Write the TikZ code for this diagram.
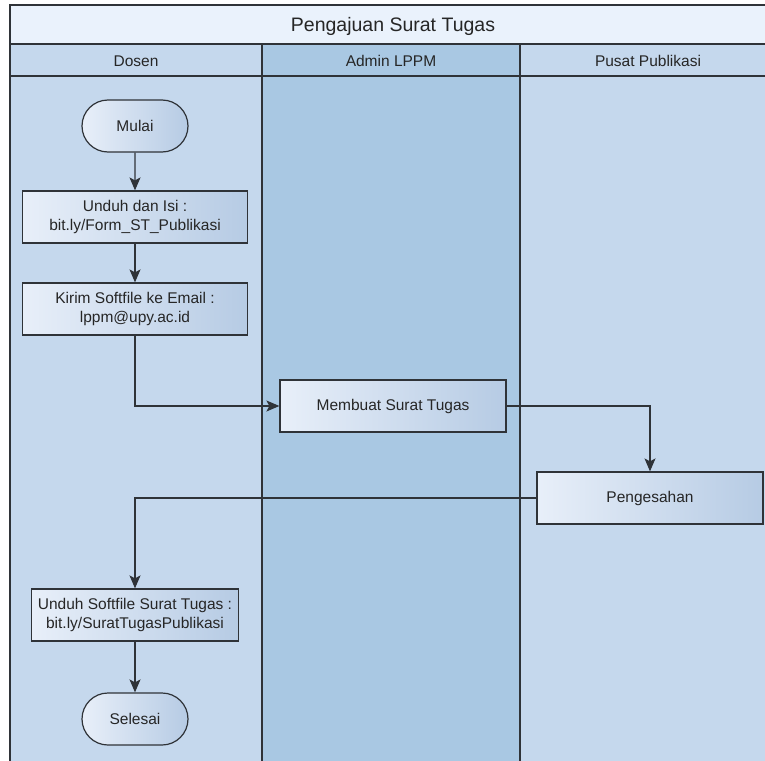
\documentclass[tikz,border=0pt]{standalone}
\usepackage{fontspec}
\setmainfont{Liberation Sans}
\usetikzlibrary{arrows.meta,shapes.misc}
\definecolor{titlefill}{HTML}{EAF2FC}
\definecolor{lanefill}{HTML}{C5D8ED}
\definecolor{adminfill}{HTML}{A9C8E3}
\definecolor{boxleft}{HTML}{E8EFF9}
\definecolor{boxright}{HTML}{B6CBE4}
\definecolor{linecol}{HTML}{2F3338}

\begin{document}
\begin{tikzpicture}[x=1pt,y=-1pt,
  proc/.style={draw=linecol,line width=1.2pt,left color=boxleft,right color=boxright,
    minimum width=226pt,minimum height=52pt,inner sep=0pt,align=center,
    font=\fontsize{15.5}{19}\selectfont,text=black!85},
  term/.style={proc,rounded rectangle,minimum width=106pt},
  flow/.style={draw=linecol,line width=1.2pt,-{Stealth[length=13pt,width=11pt,inset=3pt]}},
  laneline/.style={draw=linecol,line width=1.6pt},
  head/.style={font=\fontsize{15.5}{18}\selectfont,text=black!85}]
\useasboundingbox (0,0) rectangle (765,760);
\fill[titlefill] (10,5) rectangle (776,44);
\fill[lanefill] (10,44) rectangle (262,770);
\fill[adminfill] (262,44) rectangle (520,770);
\fill[lanefill] (520,44) rectangle (776,770);
\draw[laneline] (776,5) -- (10,5) -- (10,770);
\draw[laneline] (10,44) -- (776,44);
\draw[laneline] (10,76) -- (776,76);
\draw[laneline] (262,44) -- (262,770);
\draw[laneline] (520,44) -- (520,770);
\node[font=\fontsize{19.5}{23}\selectfont,text=black!85] (judul) at (393,26) {Pengajuan Surat Tugas};
\node[head] (dosen) at (136,61) {Dosen};
\node[head] (admin) at (391,61) {Admin LPPM};
\node[head] (pusat) at (648,61) {Pusat Publikasi};
\node[term] (mulai) at (135,126) {Mulai};
\node[proc,minimum width=225pt] (unduh) at (135,217) {Unduh dan Isi :\\bit.ly/Form\_ST\_Publikasi};
\node[proc,minimum width=225pt] (kirim) at (135,309) {Kirim Softfile ke Email :\\lppm@upy.ac.id};
\node[proc] (buat) at (393,406) {Membuat Surat Tugas};
\node[proc] (sah) at (650,498) {Pengesahan};
\node[proc,minimum width=207pt] (unduhst) at (135,615) {Unduh Softfile Surat Tugas :\\bit.ly/SuratTugasPublikasi};
\node[term] (selesai) at (135,719) {Selesai};
\draw[flow] (mulai) -- (unduh);
\draw[flow] (unduh) -- (kirim);
\draw[flow] (kirim.south) |- (buat.west);
\draw[flow] (buat.east) -| (sah.north);
\draw[flow] (sah.west) -| (unduhst.north);
\draw[flow] (unduhst) -- (selesai);
\end{tikzpicture}
\end{document}
